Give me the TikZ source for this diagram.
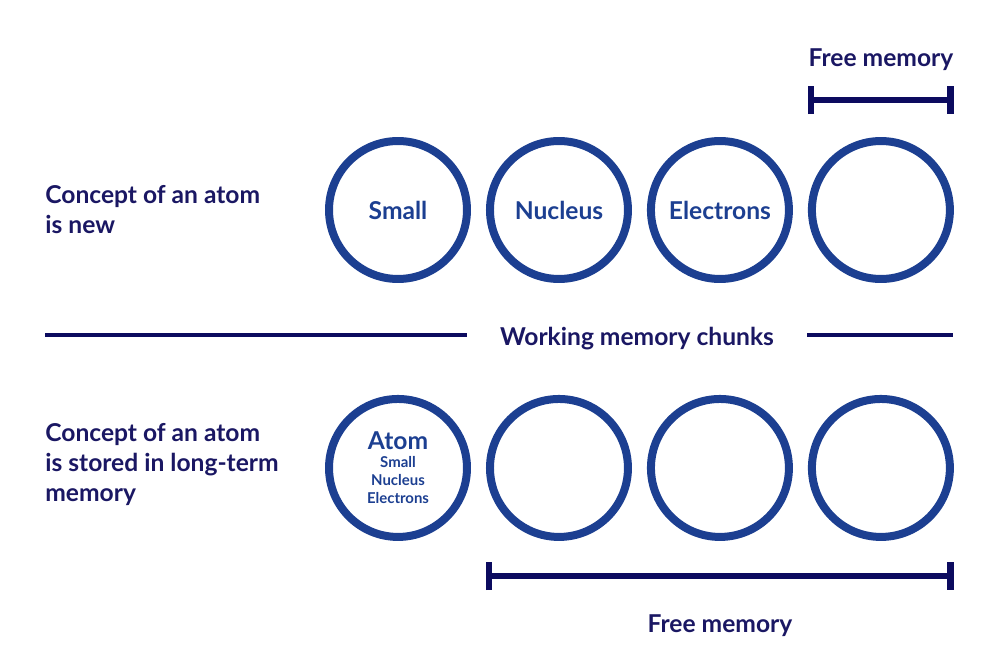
\documentclass[tikz,border=0pt]{standalone}
\usepackage{fontspec}
\setmainfont{Lato}
\usepackage{xcolor}
\usetikzlibrary{arrows.meta,positioning}

\definecolor{chunkblue}{HTML}{1C3F91}
\definecolor{inkblue}{HTML}{1A1763}
\definecolor{barblue}{HTML}{0C0B5F}

\begin{document}
\begin{tikzpicture}[
  x=0.02cm, y=-0.02cm,
  node distance=0.3cm,
  chunk/.style={circle, draw=chunkblue, line width=0.16cm, minimum size=2.76cm, inner sep=0pt, align=center, text=chunkblue, font=\bfseries\fontsize{14}{16}\selectfont},
  sidetext/.style={anchor=base west, inner sep=0pt, align=left, text=inkblue, font=\bfseries\fontsize{14}{17}\selectfont},
  midtext/.style={anchor=base, text=inkblue, font=\bfseries\fontsize{14}{16}\selectfont},
  span/.style={{Bar[width=0.56cm, line width=0.13cm]}-{Bar[width=0.56cm, line width=0.13cm]}, line width=0.12cm, draw=barblue},
  rule/.style={line width=0.08cm, draw=barblue},
]
\useasboundingbox (0,0) rectangle (1000,663);

% top row: new concept
\node[chunk] (c1) at (398,210) {Small};
\node[chunk, right=of c1] (c2) {Nucleus};
\node[chunk, right=of c2] (c3) {Electrons};
\node[chunk, right=of c3] (c4) {};

% bottom row: stored concept
\node[chunk, below=2.24cm of c1, font=\bfseries\fontsize{8.5}{10.2}\selectfont] (d1) {{\fontsize{14}{15}\selectfont Atom}\\[0pt]Small\\Nucleus\\Electrons};
\node[chunk, right=of d1] (d2) {};
\node[chunk, right=of d2] (d3) {};
\node[chunk, right=of d3] (d4) {};

\node[sidetext] (newtxt) at (45,233) {Concept of an atom\\is new};
\node[sidetext] (oldtxt) at (45,501) {Concept of an atom\\is stored in long-term\\memory};

% separator
\node[midtext, inner xsep=0.66cm] (wm) at (637,345) {Working memory chunks};
\coordinate (sepL) at (45,335);
\coordinate (sepR) at (953,335);
\draw[rule] (sepL) -- (sepL -| wm.west);
\draw[rule] (sepR -| wm.east) -- (sepR);

% free memory brackets
\coordinate (ytop) at (0,100);
\coordinate (ybot) at (0,576);
\draw[span] (c4.west |- ytop) -- (c4.east |- ytop);
\node[midtext] (freetop) at (881,66) {Free memory};
\draw[span] (d2.west |- ybot) -- (d4.east |- ybot);
\node[midtext] (freebot) at (720,632) {Free memory};

\end{tikzpicture}
\end{document}
